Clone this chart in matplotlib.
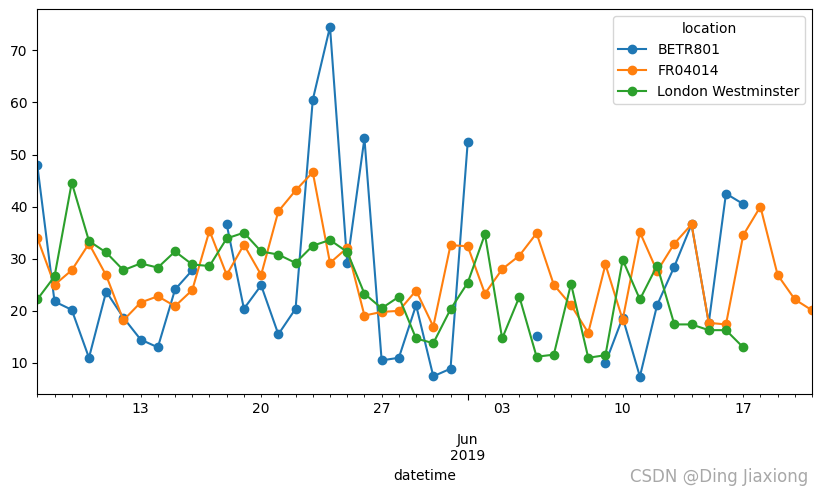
import numpy as np
import pandas as pd
import matplotlib
matplotlib.use("Agg")
import matplotlib.pyplot as plt
import matplotlib.dates as mdates
from matplotlib.ticker import FuncFormatter, FixedLocator, FixedFormatter

nan = np.nan
dates = pd.date_range("2019-05-07", "2019-06-21", freq="D")

betr801 = [47.9, 21.8, 20.2, 11.0, 23.7, 18.7, 14.5, 13.0, 24.1, 27.8,
           nan, 36.6, 20.4, 24.9, 15.5, 20.4, 60.5, 74.5, 29.1, 53.1,
           10.5, 11.0, 21.1, 7.45, 8.9, 52.4, nan, nan, nan, 15.2,
           nan, nan, nan, 10.0, 18.7, 7.4, 21.1, 28.5, 36.6, 17.7,
           42.5, 40.5, nan, nan, nan, nan]
fr04014 = [34.0, 25.0, 27.8, 32.9, 26.8, 18.2, 21.6, 22.8, 20.9, 24.0,
           35.4, 26.9, 32.7, 26.9, 39.1, 43.1, 46.6, 29.2, 32.1, 19.1,
           19.8, 20.0, 23.9, 17.0, 32.6, 32.4, 23.3, 28.0, 30.6, 34.9,
           25.0, 21.1, 15.8, 28.9, 18.3, 35.1, 27.6, 32.9, 36.6, 17.7,
           17.4, 34.5, 40.0, 26.9, 22.2, 20.1]
london = [22.2, 26.6, 44.6, 33.4, 31.2, 27.8, 29.1, 28.3, 31.4, 28.9,
          28.6, 33.9, 35.0, 31.4, 30.8, 29.2, 32.5, 33.6, 31.3, 23.3,
          20.5, 22.7, 14.7, 13.8, 20.3, 25.4, 34.7, 14.7, 22.7, 11.2,
          11.6, 25.2, 11.0, 11.5, 29.8, 22.2, 28.7, 17.4, 17.4, 16.3,
          16.3, 13.0, nan, nan, nan, nan]

series = {"BETR801": betr801, "FR04014": fr04014, "London Westminster": london}

fig = plt.figure(figsize=(8.22, 4.96), dpi=100)
ax = fig.add_axes([0.0454, 0.2056, 0.9425, 0.7756])

for name, vals in series.items():
    ax.plot(dates, vals, "-o", label=name)

ax.set_xlim(dates[0], dates[-1])

# pandas-like period axis: daily minor ticks, Mondays labelled, month/year major
def minor_fmt(x, pos):
    d = mdates.num2date(x)
    return d.strftime("%d") if d.weekday() == 0 else ""

ax.xaxis.set_minor_locator(mdates.DayLocator())
ax.xaxis.set_minor_formatter(FuncFormatter(minor_fmt))
ax.xaxis.set_major_locator(FixedLocator([mdates.date2num(pd.Timestamp("2019-06-01"))]))
ax.xaxis.set_major_formatter(FixedFormatter(["Jun\n2019"]))
ax.tick_params(axis="x", which="major", length=4, pad=24)

ax.set_xlabel("datetime")
ax.legend(title="location", loc="upper right")

fig.text(0.983, 0.038, "CSDN @Ding Jiaxiong", ha="right", va="center",
         color="#a8a8a8", fontsize=12)

fig.savefig("out.png", dpi=100)
